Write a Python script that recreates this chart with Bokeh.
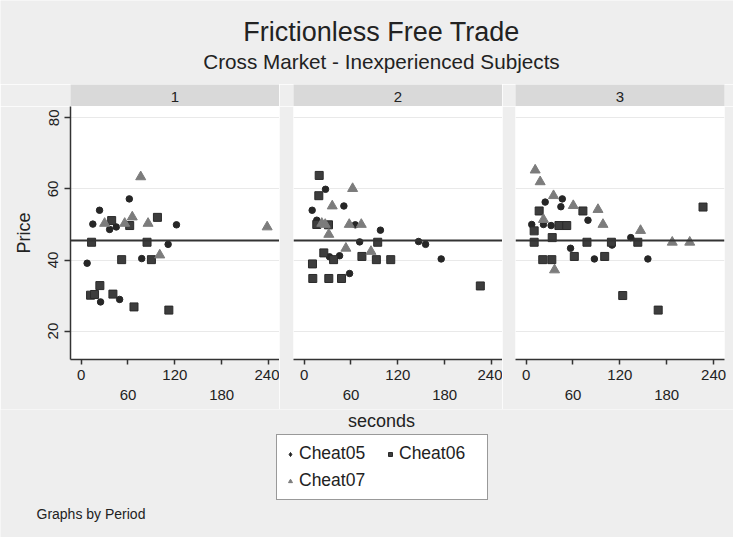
import math
from bokeh.plotting import figure
from bokeh.layouts import row, column
from bokeh.models import (Range1d, LinearAxis, FixedTicker, Grid, Span, Legend,
                          LegendItem, Label)
from bokeh.embed import file_html
from bokeh.resources import INLINE

# ---------------- data ----------------
periods = ["1", "2", "3"]
series_names = ["Cheat05", "Cheat06", "Cheat07"]
x_ticks = [0, 60, 120, 180, 240]
x_ticks_lower = [60, 180]
y_ticks = [20, 40, 60, 80]
eq_price = 45.5

p1_c05_x = [61.7, 23.6, 122.1, 111.4, 7.7, 77.6, 24.9, 49.3, 36.5, 15.0, 45.0]
p1_c05_y = [57.2, 54.0, 49.9, 44.4, 39.1, 40.4, 28.2, 28.9, 48.6, 50.1, 49.3]
p1_c06_x = [97.7, 39.1, 62.2, 13.4, 84.4, 51.9, 90.0, 24.0, 12.1, 40.7, 67.7, 112.3, 17.2]
p1_c06_y = [52.0, 51.1, 49.7, 45.0, 45.0, 40.1, 40.1, 32.8, 30.1, 30.4, 26.8, 25.9, 30.3]
p1_c07_x = [76.3, 65.5, 85.7, 238.2, 100.7, 30.1, 55.8]
p1_c07_y = [63.4, 52.1, 50.3, 49.3, 41.4, 50.3, 50.3]

p2_c05_x = [27.4, 50.9, 10.3, 16.2, 65.5, 97.7, 71.1, 146.5, 155.5, 45.4, 32.5, 58.2, 175.5]
p2_c05_y = [59.9, 55.2, 54.0, 51.2, 49.9, 48.4, 45.1, 45.2, 44.4, 41.2, 40.9, 36.2, 40.3]
p2_c06_x = [19.3, 18.8, 16.2, 94.2, 25.2, 37.7, 74.0, 92.5, 110.9, 10.7, 11.1, 31.6, 47.9, 225.6, 31.2]
p2_c06_y = [63.8, 58.1, 50.0, 45.0, 42.0, 40.1, 41.0, 40.1, 40.1, 38.9, 34.8, 34.8, 34.8, 32.7, 49.9]
p2_c07_x = [62.1, 36.0, 57.8, 73.2, 22.6, 31.6, 53.5, 85.6, 27.0]
p2_c07_y = [60.1, 55.2, 50.0, 50.0, 50.3, 47.2, 43.3, 42.4, 50.0]

p3_c05_x = [46.3, 24.4, 44.5, 79.2, 7.2, 22.2, 134.0, 56.9, 87.4, 155.9, 110.0, 32.0]
p3_c05_y = [57.2, 56.3, 55.0, 51.2, 50.0, 50.0, 46.3, 43.3, 40.3, 40.3, 44.2, 49.7]
p3_c06_x = [16.7, 72.7, 10.3, 10.3, 77.9, 109.2, 143.0, 226.5, 61.7, 100.6, 21.3, 32.9, 123.7, 169.1, 33.4, 42.0, 52.0]
p3_c06_y = [53.8, 53.8, 48.2, 45.0, 45.0, 45.0, 45.0, 54.9, 41.0, 41.0, 40.1, 40.1, 30.0, 25.9, 46.3, 49.7, 49.7]
p3_c07_x = [11.6, 18.0, 35.1, 60.4, 92.0, 98.4, 22.2, 146.5, 187.1, 209.5, 36.4]
p3_c07_y = [65.3, 62.0, 58.1, 55.3, 54.2, 50.0, 51.4, 48.3, 45.0, 45.0, 37.2]

panel_data = [
    [(p1_c05_x, p1_c05_y), (p1_c06_x, p1_c06_y), (p1_c07_x, p1_c07_y)],
    [(p2_c05_x, p2_c05_y), (p2_c06_x, p2_c06_y), (p2_c07_x, p2_c07_y)],
    [(p3_c05_x, p3_c05_y), (p3_c06_x, p3_c06_y), (p3_c07_x, p3_c07_y)],
]

# ---------------- styling ----------------
BG = "#eeeeee"
STRIP = "#d9d9d9"
INK = "#222222"
AXIS = "#333333"
FONT = "Liberation Sans"
marker_styles = [
    dict(marker="circle", size=6.5, fill_color="#262626", line_color="#262626"),
    dict(marker="square", size=8, fill_color="#3d3d3d", line_color="#2a2a2a"),
    dict(marker="triangle", size=10, fill_color="#7c7c7c", line_color="#7c7c7c"),
]

FRAME_W = 209
PANEL_H = 303
left_borders = [70, 14, 13]
right_borders = [0, 0, 9]


def base_fig(width, height, **kw):
    return figure(width=width, height=height, toolbar_location=None,
                  output_backend="svg", x_axis_type=None, y_axis_type=None,
                  min_border=0, border_fill_color=BG, outline_line_color=None,
                  **kw)


# ---------------- header ----------------
header = base_fig(733, 84, x_range=Range1d(0, 733), y_range=Range1d(84, 0),
                  background_fill_color=BG)
header.add_layout(Label(x=381, y=31, text="Frictionless Free Trade",
                        text_align="center", text_baseline="middle",
                        text_font=FONT, text_font_size="27px", text_color=INK))
header.add_layout(Label(x=381, y=61, text="Cross Market - Inexperienced Subjects",
                        text_align="center", text_baseline="middle",
                        text_font=FONT, text_font_size="20.7px", text_color=INK))

# ---------------- strips and panels ----------------
strips = []
panels = []
for i, per in enumerate(periods):
    w = left_borders[i] + FRAME_W + right_borders[i]
    s = base_fig(w, 22, x_range=Range1d(0, 1), y_range=Range1d(0, 1),
                 background_fill_color=STRIP,
                 min_border_left=left_borders[i], min_border_right=right_borders[i])
    s.add_layout(Label(x=0.5, y=0.45, text=per, text_align="center",
                       text_baseline="middle", text_font=FONT,
                       text_font_size="15px", text_color=INK))
    strips.append(s)

    p = base_fig(w, PANEL_H, x_range=Range1d(-13.6, 254), y_range=Range1d(12, 83.2),
                 background_fill_color="white",
                 min_border_left=left_borders[i], min_border_right=right_borders[i],
                 min_border_bottom=50)
    p.add_layout(Grid(dimension=1, ticker=FixedTicker(ticks=y_ticks),
                      grid_line_color="#e9e9e9", grid_line_width=1))

    ax1 = LinearAxis(ticker=FixedTicker(ticks=x_ticks),
                     major_label_overrides={t: "" for t in x_ticks_lower},
                     axis_line_color=AXIS, axis_line_width=1.5,
                     major_tick_line_color=AXIS, major_tick_line_width=1.5,
                     major_tick_out=5, major_tick_in=0,
                     minor_tick_line_color=None,
                     major_label_standoff=5,
                     major_label_text_font=FONT, major_label_text_font_size="15px",
                     major_label_text_color=INK)
    ax2 = LinearAxis(ticker=FixedTicker(ticks=x_ticks_lower),
                     axis_line_color=None, major_tick_line_color=None,
                     major_tick_out=0, major_tick_in=0,
                     minor_tick_line_color=None, major_label_standoff=7,
                     major_label_text_font=FONT, major_label_text_font_size="15px",
                     major_label_text_color=INK)
    p.add_layout(ax1, "below")
    p.add_layout(ax2, "below")

    if i == 0:
        yax = LinearAxis(ticker=FixedTicker(ticks=y_ticks), axis_label="Price",
                         axis_line_color=AXIS, axis_line_width=1.5,
                         major_tick_line_color=AXIS, major_tick_line_width=1.5,
                         major_tick_out=6, major_tick_in=0,
                         minor_tick_line_color=None,
                         major_label_orientation="vertical",
                         major_label_standoff=6,
                         major_label_text_font=FONT, major_label_text_font_size="15px",
                         major_label_text_color=INK,
                         axis_label_standoff=12,
                         axis_label_text_font=FONT, axis_label_text_font_size="18px",
                         axis_label_text_font_style="normal",
                         axis_label_text_color=INK)
        p.add_layout(yax, "left")

    p.add_layout(Span(location=eq_price, dimension="width",
                      line_color=AXIS, line_width=2))

    for (xs, ys), st in zip(panel_data[i], marker_styles):
        p.scatter(x=xs, y=ys, **st)
    panels.append(p)

# ---------------- bottom: axis title, legend, note ----------------
bottom = base_fig(733, 128, x_range=Range1d(0, 733), y_range=Range1d(128, 0),
                  background_fill_color=BG)
bottom.add_layout(Label(x=381, y=11, text="seconds", text_align="center",
                        text_baseline="middle", text_font=FONT,
                        text_font_size="18px", text_color=INK))
bottom.add_layout(Label(x=36, y=104, text="Graphs by Period", text_align="left",
                        text_baseline="middle", text_font=FONT,
                        text_font_size="14px", text_color=INK))

legend_markers = [
    dict(marker="diamond", size=10, fill_color="#1e1e1e", line_color="#1e1e1e"),
    dict(marker="square", size=8, fill_color="#3d3d3d", line_color="#2a2a2a"),
    dict(marker="triangle", size=10, fill_color="#7c7c7c", line_color="#7c7c7c"),
]
items = []
for name, st in zip(series_names, legend_markers):
    # legend-only proxy renderer (a single NaN point, never drawn on the canvas)
    r = bottom.scatter(x=[math.nan], y=[math.nan], **st)
    items.append(LegendItem(label=name, renderers=[r]))

legend = Legend(items=items, location=(276, 37), orientation="horizontal", ncols=2,
                padding=8, spacing=6, margin=0, label_height=20, label_width=80,
                glyph_width=10, glyph_height=16, label_standoff=4,
                label_text_font=FONT, label_text_font_size="17.5px",
                label_text_color=INK, border_line_color=AXIS, border_line_width=1.5,
                background_fill_color="white", background_fill_alpha=1.0)
bottom.add_layout(legend)

layout = column(header, row(*strips), row(*panels), bottom)

open("out.html", "w").write(file_html(layout, INLINE))
